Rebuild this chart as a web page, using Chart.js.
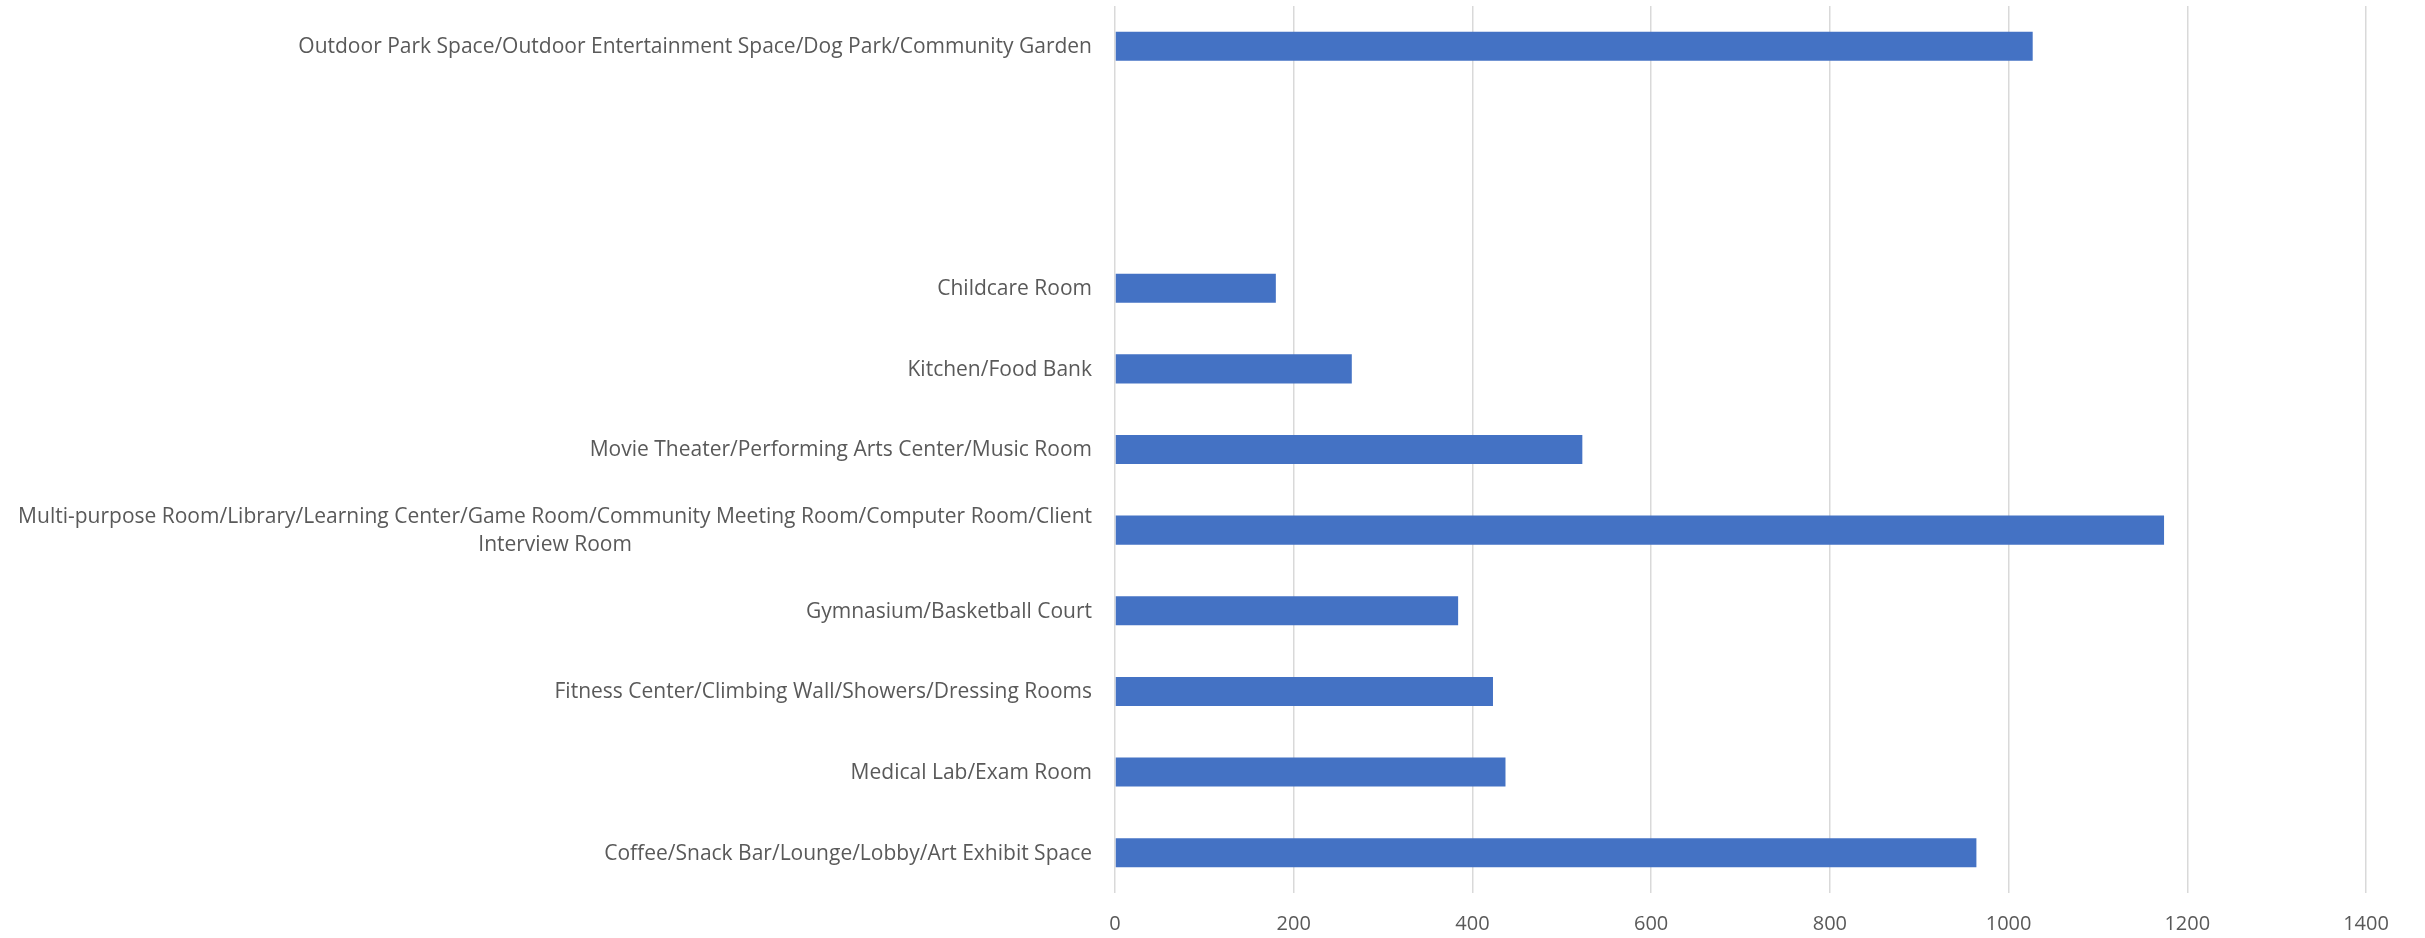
<!DOCTYPE html>
<html>
<head>
<meta charset="utf-8">
<script src="https://cdn.jsdelivr.net/npm/chart.js@4"></script>
<style>
  html, body { margin: 0; padding: 0; background: #fff; overflow: hidden; }
  canvas { display: block; }
</style>
</head>
<body>
<canvas id="grafico" width="2425" height="938"></canvas>
<script>
// categories top to bottom (two empty slots as in the source chart)
const categorias = [
  'Outdoor Park Space/Outdoor Entertainment Space/Dog Park/Community Garden',
  '',
  '',
  'Childcare Room',
  'Kitchen/Food Bank',
  'Movie Theater/Performing Arts Center/Music Room',
  ['Multi-purpose Room/Library/Learning Center/Game Room/Community Meeting Room/Computer Room/Client', 'Interview Room'],
  'Gymnasium/Basketball Court',
  'Fitness Center/Climbing Wall/Showers/Dressing Rooms',
  'Medical Lab/Exam Room',
  'Coffee/Snack Bar/Lounge/Lobby/Art Exhibit Space'
];
const valores = [1027, null, null, 180, 265, 523, 1174, 384, 423, 437, 964];
const eixoX = { min: 0, max: 1400, passo: 200 };

const corTexto = '#595959';
const fonte = '"Open Sans", sans-serif';

// draws the category labels like Excel does: block right aligned, lines centred
const rotulos = {
  id: 'rotulos',
  afterDraw(chart) {
    const ctx = chart.ctx;
    const y = chart.scales.y;
    ctx.save();
    ctx.font = '21px ' + fonte;
    ctx.fillStyle = corTexto;
    ctx.textAlign = 'center';
    ctx.textBaseline = 'middle';
    const direita = y.right - 23;
    categorias.forEach((rot, i) => {
      const linhas = Array.isArray(rot) ? rot : [rot];
      const larg = Math.max(...linhas.map(l => ctx.measureText(l).width));
      const cy = y.getPixelForTick(i) + 1;
      linhas.forEach((l, k) => {
        ctx.fillText(l, direita - larg / 2, cy + (k - (linhas.length - 1) / 2) * 28.5);
      });
    });
    ctx.restore();
  }
};

const grafico = new Chart(document.getElementById('grafico'), {
  type: 'bar',
  data: {
    labels: categorias,
    datasets: [{
      data: valores,
      backgroundColor: '#4472C4',
      borderWidth: 0,
      categoryPercentage: 1,
      barPercentage: 0.36
    }]
  },
  options: {
    indexAxis: 'y',
    responsive: false,
    animation: false,
    devicePixelRatio: 1,
    layout: { padding: { top: 6, right: 59, bottom: 4, left: 0 } },
    plugins: { legend: { display: false }, tooltip: { enabled: false } },
    scales: {
      x: {
        min: eixoX.min,
        max: eixoX.max,
        ticks: {
          stepSize: eixoX.passo,
          color: corTexto,
          font: { family: fonte, size: 20 },
          padding: 19,
          callback: (v) => String(v)
        },
        grid: { color: '#D9D9D9', lineWidth: 1.5, drawTicks: false },
        border: { display: false },
        afterFit(scale) { scale.height = 41; }
      },
      y: {
        ticks: { display: false },
        grid: { display: false },
        border: { display: false },
        afterFit(scale) { scale.width = 1115; }
      }
    }
  },
  plugins: [rotulos]
});
</script>
</body>
</html>
